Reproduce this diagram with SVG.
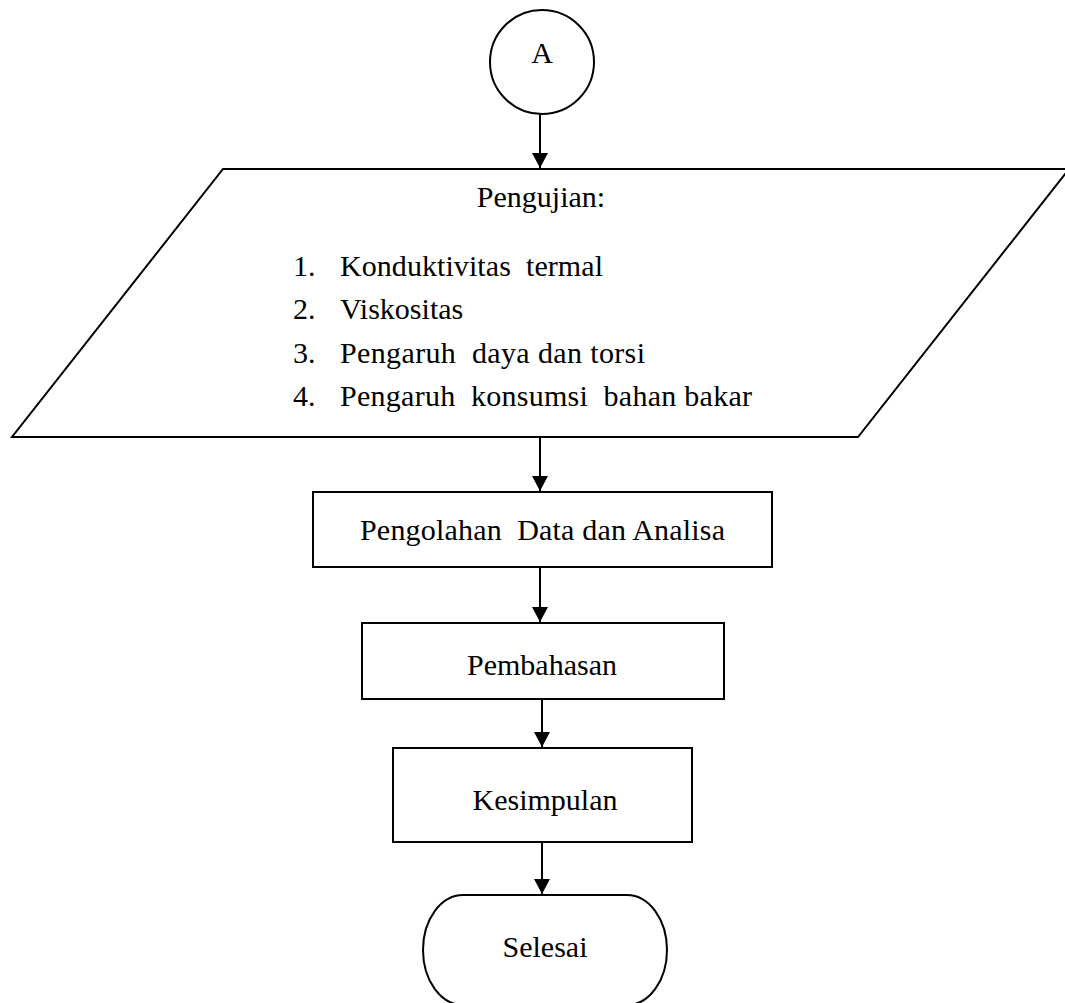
<svg xmlns="http://www.w3.org/2000/svg" width="1065" height="1003" viewBox="0 0 1065 1003">
  <defs>
    <marker id="arrow" viewBox="0 0 15 16" refX="15" refY="8" markerWidth="15" markerHeight="16" markerUnits="userSpaceOnUse" orient="auto">
      <path d="M0,0 L15,8 L0,16 z" fill="#000"/>
    </marker>
    <style>
      .shape { fill: #fff; stroke: #000; stroke-width: 2; }
      .edge { stroke: #000; stroke-width: 2; fill: none; marker-end: url(#arrow); }
      text { font-family: "Liberation Serif", "Times New Roman", "DejaVu Serif", serif; font-size: 30px; fill: #000; }
      .c { text-anchor: middle; }
    </style>
  </defs>
  <rect width="1065" height="1003" fill="#fff"/>

  <!-- connector A -->
  <g id="node-a">
    <circle class="shape" cx="542" cy="62" r="52"/>
    <text class="c" x="542" y="63">A</text>
  </g>

  <!-- input/output: tests -->
  <g id="node-pengujian">
    <polygon class="shape" points="223,169 1069,169 858,437 12,437"/>
    <text class="c" x="541" y="207">Pengujian:</text>
    <text x="293" y="276">1.</text>
    <text x="340" y="276" xml:space="preserve" textLength="263" lengthAdjust="spacing">Konduktivitas  termal</text>
    <text x="293" y="319">2.</text>
    <text x="340" y="319">Viskositas</text>
    <text x="293" y="363">3.</text>
    <text x="340" y="363" xml:space="preserve" textLength="305" lengthAdjust="spacing">Pengaruh  daya dan torsi</text>
    <text x="293" y="406">4.</text>
    <text x="340" y="406" xml:space="preserve" textLength="412" lengthAdjust="spacing">Pengaruh  konsumsi  bahan bakar</text>
  </g>

  <g id="node-pengolahan">
    <rect class="shape" x="313" y="492" width="459" height="75"/>
    <text x="360" y="540" xml:space="preserve" textLength="365" lengthAdjust="spacing">Pengolahan  Data dan Analisa</text>
  </g>

  <g id="node-pembahasan">
    <rect class="shape" x="362" y="623" width="362" height="76"/>
    <text class="c" x="542" y="675">Pembahasan</text>
  </g>

  <g id="node-kesimpulan">
    <rect class="shape" x="393" y="748" width="299" height="94"/>
    <text class="c" x="545" y="810">Kesimpulan</text>
  </g>

  <!-- terminator -->
  <g id="node-selesai">
    <rect class="shape" x="423" y="895" width="244" height="110" rx="40" ry="55"/>
    <text class="c" x="545" y="957">Selesai</text>
  </g>

  <g id="connectors">
    <line class="edge" x1="540" y1="114" x2="540" y2="168"/>
    <line class="edge" x1="540" y1="437" x2="540" y2="491"/>
    <line class="edge" x1="540" y1="567" x2="540" y2="622"/>
    <line class="edge" x1="542" y1="699" x2="542" y2="747"/>
    <line class="edge" x1="542" y1="842" x2="542" y2="894"/>
  </g>
</svg>
